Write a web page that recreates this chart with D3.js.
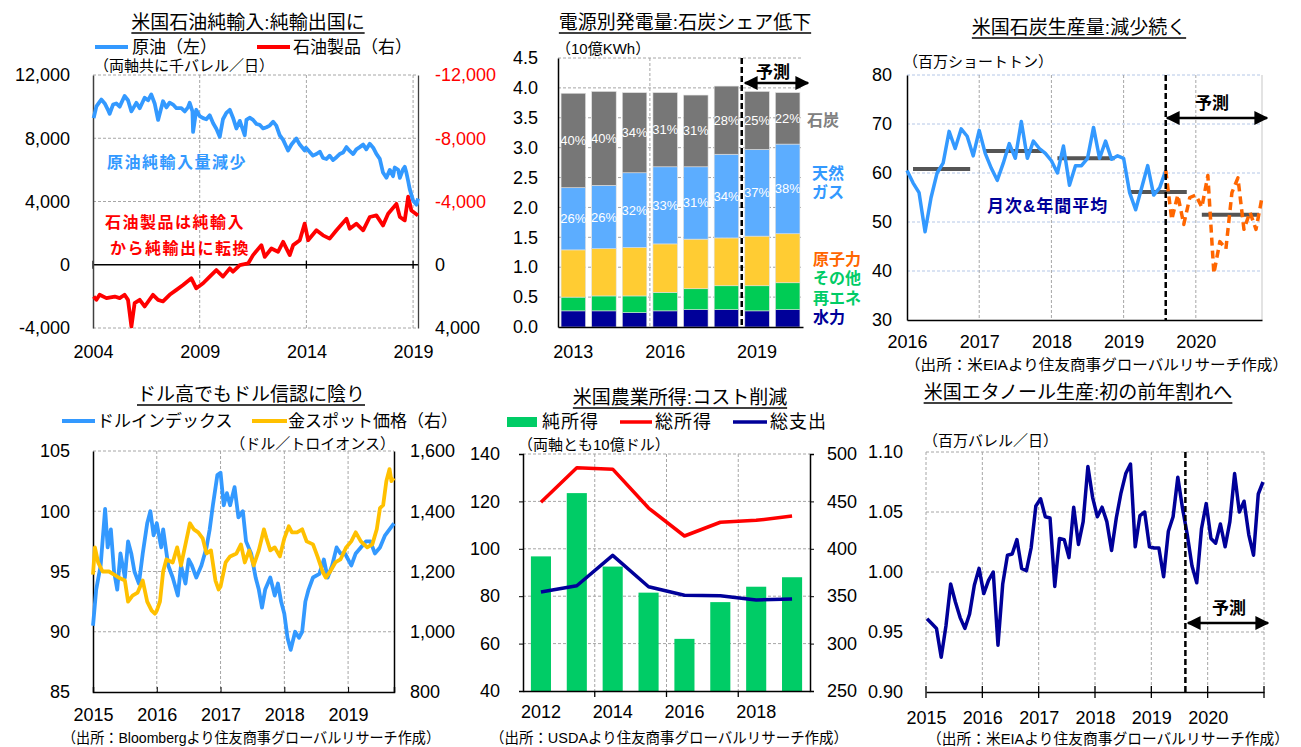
<!DOCTYPE html>
<html>
<head>
<meta charset="utf-8">
<script src="https://cdn.jsdelivr.net/npm/d3@7"></script>
<style>
    body { margin: 0; background: #fff; }
    svg text { font-family: "Liberation Sans", "Noto Sans CJK JP", sans-serif; }
</style>
</head>
<body>
<svg id="chart" width="1301" height="747"></svg>
<script>

// ---------- chart 1 : oil net imports (thousand b/d) ----------
var crudeImports = [
    [2004.03, 9270], [2004.16, 10020], [2004.31, 10300], [2004.39, 10450], [2004.55, 10200], [2004.70, 9800],
    [2004.78, 9550], [2004.94, 10130], [2005.09, 10200], [2005.25, 10000], [2005.48, 10670], [2005.64, 10400],
    [2005.80, 9700], [2006.03, 10240], [2006.19, 9900], [2006.42, 10560], [2006.58, 10400], [2006.73, 10770],
    [2006.89, 10200], [2007.05, 9160], [2007.28, 10340], [2007.44, 9950], [2007.59, 10250], [2007.75, 10130],
    [2007.91, 9900], [2008.14, 9900], [2008.30, 9700], [2008.45, 9950], [2008.53, 10240], [2008.66, 9700],
    [2008.69, 8400], [2008.84, 9800], [2009.00, 9400], [2009.16, 9270], [2009.31, 9200], [2009.47, 9450],
    [2009.63, 8950], [2009.78, 8600], [2009.94, 8090], [2010.09, 9200], [2010.25, 9600], [2010.41, 9800],
    [2010.56, 9300], [2010.72, 8620], [2010.88, 9100], [2011.11, 8190], [2011.19, 9160], [2011.34, 9300],
    [2011.50, 9160], [2011.66, 8900], [2011.81, 8850], [2011.97, 8620], [2012.13, 8700], [2012.28, 8800],
    [2012.44, 9050], [2012.59, 8800], [2012.75, 8190], [2012.91, 7900], [2013.14, 7230], [2013.30, 7600],
    [2013.53, 7980], [2013.69, 7600], [2013.92, 7230], [2013.98, 7400], [2014.31, 6900], [2014.47, 7000],
    [2014.63, 7150], [2014.78, 6750], [2014.94, 6690], [2015.09, 6900], [2015.25, 6620], [2015.41, 6800],
    [2015.56, 7000], [2015.72, 7100], [2015.88, 7440], [2016.03, 7200], [2016.19, 7000], [2016.34, 7300],
    [2016.50, 7440], [2016.66, 7600], [2016.81, 7300], [2016.97, 7650], [2017.13, 7400], [2017.28, 7010],
    [2017.44, 6700], [2017.59, 5830], [2017.75, 5500], [2017.91, 6000], [2018.06, 5600], [2018.14, 6150],
    [2018.30, 6000], [2018.38, 5500], [2018.53, 6040], [2018.61, 6200], [2018.69, 5800], [2018.77, 5290],
    [2018.84, 4800], [2019.00, 4060], [2019.16, 3800], [2019.23, 4190]
];
var productImports = [
    [2004.03, 2010], [2004.16, 2220], [2004.31, 1900], [2004.63, 2110], [2005.02, 2010], [2005.25, 2110],
    [2005.48, 1900], [2005.64, 2220], [2005.80, 3900], [2005.95, 2430], [2006.19, 2220], [2006.42, 2640],
    [2006.81, 1900], [2007.05, 2220], [2007.28, 2320], [2007.59, 1900], [2007.91, 1590], [2008.22, 1280],
    [2008.61, 860], [2008.84, 1490], [2009.16, 1170], [2009.47, 750], [2009.78, 340], [2010.09, 750],
    [2010.41, 230], [2010.56, 440], [2010.88, 20], [2011.27, -80], [2011.50, -610], [2011.89, -1240],
    [2012.05, -500], [2012.36, -1030], [2012.67, -820], [2012.91, -1450], [2013.22, -610], [2013.38, -1240],
    [2013.69, -1550], [2013.92, -2600], [2014.08, -1550], [2014.47, -2180], [2014.78, -1860], [2015.09, -1650],
    [2015.41, -2180], [2015.88, -2910], [2016.03, -2280], [2016.34, -2600], [2016.66, -2180], [2016.97, -3020],
    [2017.28, -3120], [2017.59, -2490], [2017.83, -3230], [2018.22, -3850], [2018.38, -3020], [2018.61, -2810],
    [2018.77, -4310], [2018.92, -3430], [2019.23, -3120]
];
var oilTicksLeft = [-4000, 0, 4000, 8000, 12000];
var oilTicksRight = [-12000, -8000, -4000, 0, 4000];
var oilYears = [2004, 2009, 2014, 2019];

// ---------- chart 2 : generation by source (trillion kWh) ----------
var genYears = [2013, 2014, 2015, 2016, 2017, 2018, 2019, 2020];
var genHydro = [0.27, 0.27, 0.24, 0.27, 0.29, 0.29, 0.27, 0.29];
var genOther = [0.23, 0.25, 0.28, 0.31, 0.35, 0.40, 0.42, 0.45];
var genNuclear = [0.79, 0.79, 0.81, 0.81, 0.83, 0.80, 0.83, 0.82];
var genGas = [1.04, 1.06, 1.25, 1.29, 1.21, 1.40, 1.45, 1.50];
var genCoal = [1.58, 1.57, 1.34, 1.24, 1.20, 1.14, 0.97, 0.86];
var coalShare = ["40%", "40%", "34%", "31%", "31%", "28%", "25%", "22%"];
var gasShare = ["26%", "26%", "32%", "33%", "31%", "34%", "37%", "38%"];
var genTicks = [0, 0.5, 1, 1.5, 2, 2.5, 3, 3.5, 4, 4.5];
var genLabelYears = [2013, 2016, 2019];

// ---------- chart 3 : coal production (million short tons, month 0 = Jan 2016) ----------
var coalActual = [60.5, 58, 56, 48, 55, 60, 62, 68.5, 65, 69, 67.5, 63.5, 68.7, 64, 61, 58.5, 62, 66, 63, 70.5,
    63, 66.5, 65, 64, 62.5, 60, 65.5, 57.5, 61.5, 61.5, 63, 69.3, 63, 66.5, 62.8, 63.5, 63, 56, 52.5, 57,
    61.5, 55.5, 57, 60.5];
var coalForecast = [60.5, 50.5, 55.5, 49.5, 55, 55.5, 53, 59.5, 39.5, 46, 44.5, 56, 59, 48.5, 52, 48.5, 55];
var coalForecastStart = 43;
var coalAvgYears = [2016, 2017, 2018, 2019, 2020];
var coalAvg = [60.8, 64.5, 63, 56.1, 51.5];
var coalTicks = [30, 40, 50, 60, 70, 80];

// ---------- chart 4 : dollar index & gold ----------
var dollarIndex = [
    [2015.00, 90.5], [2015.05, 93.5], [2015.12, 95.5], [2015.19, 100.2], [2015.23, 97.0], [2015.28, 98.5],
    [2015.33, 95.0], [2015.38, 93.5], [2015.43, 96.5], [2015.50, 94.5], [2015.55, 97.5], [2015.60, 96.5],
    [2015.65, 95.0], [2015.72, 94.0], [2015.78, 96.5], [2015.85, 99.0], [2015.90, 100.0], [2015.95, 98.0],
    [2016.00, 99.0], [2016.07, 97.0], [2016.10, 98.5], [2016.18, 95.5], [2016.25, 94.5], [2016.33, 93.0],
    [2016.38, 95.5], [2016.45, 94.0], [2016.50, 96.0], [2016.55, 95.5], [2016.62, 94.5], [2016.70, 95.5],
    [2016.78, 97.0], [2016.83, 98.5], [2016.88, 100.5], [2016.95, 103.0], [2017.00, 103.2], [2017.05, 100.5],
    [2017.10, 101.5], [2017.15, 100.5], [2017.22, 102.0], [2017.28, 99.5], [2017.35, 100.0], [2017.40, 97.5],
    [2017.48, 96.5], [2017.55, 94.5], [2017.60, 93.5], [2017.65, 92.0], [2017.70, 93.5], [2017.78, 94.5],
    [2017.85, 93.0], [2017.90, 94.0], [2017.95, 92.5], [2018.00, 91.5], [2018.05, 89.5], [2018.10, 88.5],
    [2018.17, 90.0], [2018.23, 89.5], [2018.28, 90.0], [2018.33, 92.5], [2018.38, 93.5], [2018.45, 94.5],
    [2018.55, 94.8], [2018.62, 96.0], [2018.68, 94.5], [2018.75, 95.5], [2018.82, 97.0], [2018.88, 96.5],
    [2018.95, 96.5], [2019.00, 96.0], [2019.05, 95.5], [2019.12, 96.5], [2019.20, 97.0], [2019.28, 97.5],
    [2019.35, 97.5], [2019.42, 96.5], [2019.50, 97.0], [2019.58, 98.0], [2019.65, 98.5], [2019.72, 99.0]
];
var goldSpot = [
    [2015.00, 1190], [2015.03, 1280], [2015.08, 1230], [2015.15, 1200], [2015.25, 1200], [2015.33, 1190],
    [2015.40, 1180], [2015.50, 1170], [2015.55, 1100], [2015.62, 1120], [2015.70, 1130], [2015.78, 1170],
    [2015.85, 1100], [2015.92, 1070], [2015.97, 1060], [2016.00, 1070], [2016.05, 1100], [2016.10, 1200],
    [2016.15, 1240], [2016.25, 1230], [2016.32, 1280], [2016.38, 1220], [2016.45, 1290], [2016.52, 1360],
    [2016.58, 1340], [2016.65, 1330], [2016.72, 1310], [2016.78, 1260], [2016.85, 1270], [2016.92, 1170],
    [2016.97, 1140], [2017.00, 1150], [2017.08, 1230], [2017.15, 1250], [2017.25, 1260], [2017.32, 1290],
    [2017.38, 1230], [2017.45, 1270], [2017.52, 1220], [2017.60, 1270], [2017.68, 1340], [2017.72, 1310],
    [2017.78, 1270], [2017.85, 1280], [2017.93, 1250], [2018.00, 1310], [2018.07, 1350], [2018.12, 1330],
    [2018.20, 1330], [2018.28, 1340], [2018.35, 1300], [2018.45, 1290], [2018.52, 1250], [2018.60, 1200],
    [2018.65, 1180], [2018.72, 1200], [2018.80, 1230], [2018.88, 1240], [2018.97, 1280], [2019.05, 1300],
    [2019.12, 1330], [2019.20, 1300], [2019.30, 1280], [2019.38, 1290], [2019.45, 1340], [2019.50, 1410],
    [2019.55, 1420], [2019.60, 1500], [2019.65, 1540], [2019.68, 1500], [2019.72, 1510]
];
var dollarTicks = [85, 90, 95, 100, 105];
var goldTicks = [800, 1000, 1200, 1400, 1600];
var dollarYears = [2015, 2016, 2017, 2018, 2019];

// ---------- chart 5 : farm income (billion $) ----------
var farmYears = [2012, 2013, 2014, 2015, 2016, 2017, 2018, 2019];
var netIncome = [96.8, 123.5, 92.5, 81.5, 62, 77.5, 84, 88];
var grossIncome = [449, 485.5, 484, 443, 413.5, 428, 430, 434.5];
var totalExpense = [354.5, 361, 393, 360, 351, 350.5, 346, 347];
var farmTicksL = [40, 60, 80, 100, 120, 140];
var farmTicksR = [250, 300, 350, 400, 450, 500];
var farmLabelYears = [2012, 2014, 2016, 2018];

// ---------- chart 6 : ethanol production (million b/d, index 0 = Jan 2015) ----------
var ethanol = [0.961, 0.957, 0.953, 0.929, 0.955, 0.990, 0.975, 0.962, 0.953, 0.965,
    0.989, 1.003, 0.982, 0.993, 1.000, 0.939, 0.990, 1.014, 1.015, 1.027,
    1.003, 1.001, 1.020, 1.055, 1.061, 1.046, 1.045, 0.988, 1.028, 1.027,
    1.012, 1.054, 1.023, 1.042, 1.088, 1.062, 1.046, 1.054, 1.042, 1.018,
    1.045, 1.066, 1.082, 1.090, 1.021, 1.047, 1.050, 1.021, 1.020, 1.020,
    0.996, 1.034, 1.046, 1.079, 1.053, 1.031, 1.005, 0.991, 1.036, 1.057,
    1.028, 1.024, 1.040, 1.021, 1.042, 1.082, 1.050, 1.059, 1.031, 1.014,
    1.065, 1.075];
var ethanolForecastStart = 54.6;
var ethanolTicks = [0.90, 0.95, 1.00, 1.05, 1.10];
var ethanolYears = [2015, 2016, 2017, 2018, 2019, 2020, 2021];


var BLUE = "#3399ff", RED = "#ff0000", GOLD = "#ffc000", NAVY = "#000099",
    GREEN = "#00cc66", ORANGE = "#ff6600", GRID = "#a6a6a6";
var FMT = function (v) { return d3.format(",")(v).replace("\u2212", "-"); };

var svg = d3.select("#chart");
svg.append("rect").attr("width", 1301).attr("height", 747).attr("fill", "#fff");

// arrow head for the forecast arrows
svg.append("defs").append("marker")
    .attr("id", "ah").attr("viewBox", "0 0 10 10").attr("refX", 9).attr("refY", 5)
    .attr("markerWidth", 14).attr("markerHeight", 14).attr("markerUnits", "userSpaceOnUse")
    .attr("orient", "auto-start-reverse")
    .append("path").attr("d", "M0,0L10,5L0,10z").attr("fill", "#000");

function line(x1, y1, x2, y2, color, w, dash) {
    var l = svg.append("line").attr("x1", x1).attr("y1", y1).attr("x2", x2).attr("y2", y2)
        .attr("stroke", color).attr("stroke-width", w || 1);
    if (dash) l.attr("stroke-dasharray", dash);
    return l;
}

function label(x, y, s, size, anchor, color, weight) {
    return svg.append("text").attr("x", x).attr("y", y)
        .attr("text-anchor", anchor || "start").attr("dominant-baseline", "central")
        .style("font-size", size + "px").style("fill", color || "#000")
        .style("font-weight", weight || "normal").text(s);
}

function title(cx, cy, s) {
    var t = label(cx, cy, s, 19, "middle");
    var bb = t.node().getBBox();
    line(bb.x, cy + 11, bb.x + bb.width, cy + 11, "#000", 1.3);
}

// source lines: squeeze/stretch to the width they take in the original
function source(x, y, s, w) {
    return label(x, y, s, 15).attr("textLength", w).attr("lengthAdjust", "spacingAndGlyphs");
}

function arrow(x1, x2, y) {
    line(x1, y, x2, y, "#000", 2.5).attr("marker-start", "url(#ah)").attr("marker-end", "url(#ah)");
}

function axis(g, color) {
    g.attr("font-size", 18).attr("color", color || "#000");
    return g;
}

function path(data, x, y, color, w, dash) {
    var p = svg.append("path").datum(data)
        .attr("fill", "none").attr("stroke", color).attr("stroke-width", w)
        .attr("stroke-linejoin", "round")
        .attr("d", d3.line().x(x).y(y));
    if (dash) p.attr("stroke-dasharray", dash);
    return p;
}


// ======================= chart 1 =======================
(function () {
    var x = d3.scaleLinear().domain([2004, 2019.23]).range([93, 418]);
    var y = d3.scaleLinear().domain([-4000, 12000]).range([328, 75]);
    var yr = d3.scaleLinear().domain([4000, -12000]).range([328, 75]);

    title(248, 22, "米国石油純輸入:純輸出国に");
    line(95, 47, 128, 47, BLUE, 4);
    label(132, 47, "原油（左）", 17);
    line(257, 47, 290, 47, RED, 4);
    label(293, 47, "石油製品（右）", 17);
    label(94, 65, "（両軸共に千バレル／日）", 15);

    [12000, 8000, 4000, -4000].forEach(function (v) {
        line(93, y(v), 418, y(v), GRID, 1, "3,2");
    });
    oilYears.slice(1).forEach(function (yr0) {
        line(x(yr0), 75, x(yr0), 328, GRID, 1, "3,2");
    });
    line(93, y(0), 418, y(0), "#000", 1.3);
    oilYears.forEach(function (yr0) {
        line(x(yr0), y(0) - 4, x(yr0), y(0) + 4, "#000", 1.3);
    });

    svg.append("g").attr("transform", "translate(93,0)")
        .call(d3.axisLeft(y).tickValues(oilTicksLeft).tickFormat(FMT).tickSize(0).tickPadding(23))
        .call(axis).select(".domain").attr("stroke", "#404040").attr("stroke-width", 1.5);
    svg.append("g").attr("transform", "translate(418,0)")
        .call(d3.axisRight(yr).tickValues(oilTicksRight).tickFormat(FMT).tickSize(0).tickPadding(17))
        .call(axis)
        .call(function (g) { g.selectAll("text").style("fill", function (d) { return d < 0 ? RED : "#000"; }); })
        .select(".domain").attr("stroke", "#404040").attr("stroke-width", 1.3);
    svg.append("g").attr("transform", "translate(0,328)")
        .call(d3.axisBottom(x).tickValues(oilYears).tickFormat(d3.format("d")).tickSize(0).tickPadding(17.6))
        .call(axis).select(".domain").remove();

    path(productImports, function (d) { return x(d[0]); }, function (d) { return yr(d[1]); }, RED, 3.8);
    path(crudeImports, function (d) { return x(d[0]); }, function (d) { return y(d[1]); }, BLUE, 3.8);

    label(107, 162, "原油純輸入量減少", 16, "start", BLUE, "bold").style("letter-spacing", "1.5px");
    label(105, 222, "石油製品は純輸入", 16, "start", RED, "bold").style("letter-spacing", "1.5px");
    label(110, 248, "から純輸出に転換", 16, "start", RED, "bold").style("letter-spacing", "1.5px");
})();


// ======================= chart 2 =======================
(function () {
    var x = d3.scaleBand().domain(genYears).range([558, 803]).paddingInner(0.2).paddingOuter(0.1);
    var y = d3.scaleLinear().domain([0, 4.5]).range([327, 58]);
    var half = x.step() * x.paddingInner() / 2;

    title(685, 22, "電源別発電量:石炭シェア低下");
    label(556, 48, "（10億KWh）", 15);

    genTicks.slice(1).forEach(function (v) { line(558, y(v), 803, y(v), GRID, 1, "3,2"); });
    line(x(2016) - half, 58, x(2016) - half, 327, GRID, 1, "3,2");

    var rows = genYears.map(function (yr, i) {
        return { year: yr, hydro: genHydro[i], other: genOther[i], nuclear: genNuclear[i], gas: genGas[i], coal: genCoal[i] };
    });
    var colors = { hydro: NAVY, other: "#00cc55", nuclear: "#ffcc33", gas: "#5cadff", coal: "#777777" };
    var stacked = d3.stack().keys(["hydro", "other", "nuclear", "gas", "coal"])(rows);

    svg.append("g").selectAll("g").data(stacked).join("g")
        .attr("fill", function (d) { return colors[d.key]; })
        .selectAll("rect").data(function (d) { return d; }).join("rect")
        .attr("x", function (d) { return x(d.data.year); })
        .attr("width", x.bandwidth())
        .attr("y", function (d) { return y(d[1]); })
        .attr("height", function (d) { return y(d[0]) - y(d[1]); })
        .attr("stroke", "#e0e0e0").attr("stroke-width", 0.6);

    // share labels in the coal and gas segments
    [[stacked[4], coalShare], [stacked[3], gasShare]].forEach(function (pair) {
        pair[0].forEach(function (d, i) {
            label(x(d.data.year) + x.bandwidth() / 2, y((d[0] + d[1]) / 2), pair[1][i], 13, "middle", "#fff");
        });
    });

    svg.append("g").attr("transform", "translate(558,0)")
        .call(d3.axisLeft(y).tickValues(genTicks).tickFormat(d3.format(".1f")).tickSize(0).tickPadding(20))
        .call(axis).select(".domain").attr("stroke-width", 1.5);
    svg.append("g").attr("transform", "translate(0,327)")
        .call(d3.axisBottom(x).tickValues(genLabelYears).tickSize(0).tickPadding(18.6))
        .call(axis).select(".domain").attr("stroke-width", 1.5);

    var fx = x(2019) - half;
    line(fx, 58, fx, 327, "#000", 2.5, "6,3");
    label(773, 72, "予測", 17, "middle", "#000", "bold");
    arrow(745, 808, 83);

    label(807, 120, "石炭", 16, "start", "#808080", "bold");
    label(812, 173, "天然", 16, "start", BLUE, "bold");
    label(812, 192, "ガス", 16, "start", BLUE, "bold");
    label(813, 259, "原子力", 16, "start", ORANGE, "bold");
    label(813, 278, "その他", 16, "start", GREEN, "bold");
    label(813, 298, "再エネ", 16, "start", GREEN, "bold");
    label(813, 317, "水力", 16, "start", NAVY, "bold");
})();


// ======================= chart 3 =======================
(function () {
    var x = d3.scaleLinear().domain([0, 59]).range([907, 1262]);
    var y = d3.scaleLinear().domain([30, 80]).range([320, 75]);

    title(1079, 27, "米国石炭生産量:減少続く");
    label(903, 61, "（百万ショートトン）", 15);

    [40, 50, 60, 70, 80].forEach(function (v) { line(907, y(v), 1262, y(v), "#b4c7e7", 1, "3,2"); });
    [12, 24, 36, 48].forEach(function (m) { line(x(m), 75, x(m), 320, GRID, 1, "3,2"); });
    line(1262, 75, 1262, 320, "#d0d0d0", 1.2);

    svg.append("g").attr("transform", "translate(907,0)")
        .call(d3.axisLeft(y).tickValues(coalTicks).tickSize(0).tickPadding(15))
        .call(axis).select(".domain").attr("stroke-width", 1.5);
    svg.append("g").attr("transform", "translate(0,320)")
        .call(d3.axisBottom(x).tickValues([0, 12, 24, 36, 48])
            .tickFormat(function (m) { return 2016 + m / 12; }).tickSize(0).tickPadding(15.6))
        .call(axis).select(".domain").attr("stroke-width", 1.5);

    // yearly averages
    coalAvgYears.forEach(function (yr, i) {
        var m0 = (yr - 2016) * 12;
        line(x(m0 + 1), y(coalAvg[i]), x(m0 + 10.5), y(coalAvg[i]), "#555", 4);
    });

    path(coalActual, function (d, i) { return x(i); }, function (d) { return y(d); }, BLUE, 3.5);
    path(coalForecast, function (d, i) { return x(coalForecastStart + i); }, function (d) { return y(d); }, ORANGE, 3.5, "8,5");

    line(x(coalForecastStart), 75, x(coalForecastStart), 320, "#000", 2.5, "6,3");
    label(1212, 103, "予測", 17, "middle", "#000", "bold");
    arrow(1167, 1267, 118);
    label(987, 206, "月次&年間平均", 17, "start", NAVY, "bold").style("letter-spacing", "1px");

    source(905, 364, "（出所：米EIAより住友商事グローバルリサーチ作成）", 383);
})();


// ======================= chart 4 =======================
(function () {
    var x = d3.scaleLinear().domain([2015, 2019.72]).range([93, 394]);
    var y = d3.scaleLinear().domain([85, 105]).range([692, 451]);
    var yr = d3.scaleLinear().domain([800, 1600]).range([692, 451]);

    title(251, 394, "ドル高でもドル信認に陰り");
    line(62, 421, 95, 421, BLUE, 4);
    label(97, 421, "ドルインデックス", 17);
    line(252, 421, 287, 421, GOLD, 4);
    label(288, 421, "金スポット価格（右）", 17);
    label(395, 443, "（ドル／トロイオンス）", 15, "end");

    [90, 95, 100, 105].forEach(function (v) { line(93, y(v), 394, y(v), GRID, 1, "3,2"); });
    dollarYears.slice(1).forEach(function (yr0) { line(x(yr0), 451, x(yr0), 692, GRID, 1, "3,2"); });

    svg.append("g").attr("transform", "translate(93,0)")
        .call(d3.axisLeft(y).tickValues(dollarTicks).tickSize(0).tickPadding(23))
        .call(axis).select(".domain").attr("stroke-width", 1.5);
    svg.append("g").attr("transform", "translate(394,0)")
        .call(d3.axisRight(yr).tickValues(goldTicks).tickFormat(FMT).tickSize(0).tickPadding(16))
        .call(axis).select(".domain").attr("stroke-width", 1.5);
    svg.append("g").attr("transform", "translate(0,692)")
        .call(d3.axisBottom(x).tickValues(dollarYears).tickFormat(d3.format("d")).tickSize(-5).tickPadding(16.6))
        .call(axis).select(".domain").attr("stroke-width", 1.5);

    path(dollarIndex, function (d) { return x(d[0]); }, function (d) { return y(d[1]); }, BLUE, 3.8);
    path(goldSpot, function (d) { return x(d[0]); }, function (d) { return yr(d[1]); }, GOLD, 3.8);

    source(62, 737, "（出所：Bloombergより住友商事グローバルリサーチ作成）", 378);
})();


// ======================= chart 5 =======================
(function () {
    var x = d3.scaleBand().domain(farmYears).range([523, 810]).paddingInner(0.44).paddingOuter(0.22);
    var y = d3.scaleLinear().domain([40, 140]).range([691, 454]);
    var yr = d3.scaleLinear().domain([250, 500]).range([691, 454]);
    var half = x.step() * x.paddingInner() / 2;
    var bounds = [2014, 2016, 2018].map(function (yr0) { return x(yr0) - half; });

    title(680, 397, "米国農業所得:コスト削減");
    svg.append("rect").attr("x", 507).attr("y", 417).attr("width", 30).attr("height", 10).attr("fill", GREEN);
    label(542, 422, "純所得", 18).style("letter-spacing", "1px");
    line(620, 422, 652, 422, RED, 3.5);
    label(655, 422, "総所得", 18).style("letter-spacing", "1px");
    line(733, 422, 767, 422, NAVY, 3.5);
    label(770, 422, "総支出", 18).style("letter-spacing", "1px");
    label(518, 444, "（両軸とも10億ドル）", 15);

    [60, 80, 100, 120, 140].forEach(function (v) { line(523, y(v), 810, y(v), GRID, 1, "3,2"); });
    bounds.forEach(function (bx) {
        line(bx, 454, bx, 691, GRID, 1, "3,2");
        line(bx, 691, bx, 697, "#000", 1.3);
    });

    svg.append("g").selectAll("rect").data(netIncome).join("rect")
        .attr("x", function (d, i) { return x(farmYears[i]); })
        .attr("width", x.bandwidth())
        .attr("y", function (d) { return y(d); })
        .attr("height", function (d) { return 691 - y(d); })
        .attr("fill", GREEN);

    svg.append("g").attr("transform", "translate(523,0)")
        .call(d3.axisLeft(y).tickValues(farmTicksL).tickSize(4).tickPadding(19))
        .call(axis).select(".domain").attr("stroke-width", 1.5);
    svg.append("g").attr("transform", "translate(810,0)")
        .call(d3.axisRight(yr).tickValues(farmTicksR).tickSize(4).tickPadding(13))
        .call(axis).select(".domain").attr("stroke-width", 1.5);
    svg.append("g").attr("transform", "translate(0,691)")
        .call(d3.axisBottom(x).tickValues(farmLabelYears).tickSize(0).tickPadding(14.6))
        .call(axis).select(".domain").attr("stroke-width", 1.5);

    var cx = function (d, i) { return x(farmYears[i]) + x.bandwidth() / 2; };
    path(grossIncome, cx, function (d) { return yr(d); }, RED, 3.5);
    path(totalExpense, cx, function (d) { return yr(d); }, NAVY, 3.5);

    source(490, 737, "（出所：USDAより住友商事グローバルリサーチ作成）", 358);
})();


// ======================= chart 6 =======================
(function () {
    var xy = d3.scaleLinear().domain([2015, 2021]).range([926, 1264]);
    var x = d3.scaleLinear().domain([0, 71]).range([927, 1263]);
    var y = d3.scaleLinear().domain([0.9, 1.1]).range([692, 452]);

    title(1078, 392, "米国エタノール生産:初の前年割れへ");
    label(923, 440, "（百万バレル／日）", 15);

    [0.95, 1.00, 1.05, 1.10].forEach(function (v) { line(926, y(v), 1264, y(v), GRID, 1, "3,2"); });
    ethanolYears.forEach(function (yr0) {
        line(xy(yr0), 452, xy(yr0), 692, GRID, 1, "3,2");
        line(xy(yr0), 686, xy(yr0), 698, "#000", 1.3);
    });

    svg.append("g").attr("transform", "translate(926,0)")
        .call(d3.axisLeft(y).tickValues(ethanolTicks).tickFormat(d3.format(".2f")).tickSize(0).tickPadding(23))
        .call(axis).select(".domain").remove();
    svg.append("g").attr("transform", "translate(0,692)")
        .call(d3.axisBottom(xy).tickValues(ethanolYears.slice(0, 6)).tickFormat(d3.format("d")).tickSize(0).tickPadding(19.6))
        .call(axis).select(".domain").attr("stroke-width", 1.5);

    path(ethanol, function (d, i) { return x(i); }, function (d) { return y(d); }, NAVY, 3.5);

    var fx = x(ethanolForecastStart);
    line(fx, 452, fx, 692, "#000", 2.5, "6,3");
    label(1229, 608, "予測", 17, "middle", "#000", "bold");
    arrow(1188, 1268, 623);

    source(927, 738, "（出所：米EIAより住友商事グローバルリサーチ作成）", 362);
})();

</script>
</body>
</html>
